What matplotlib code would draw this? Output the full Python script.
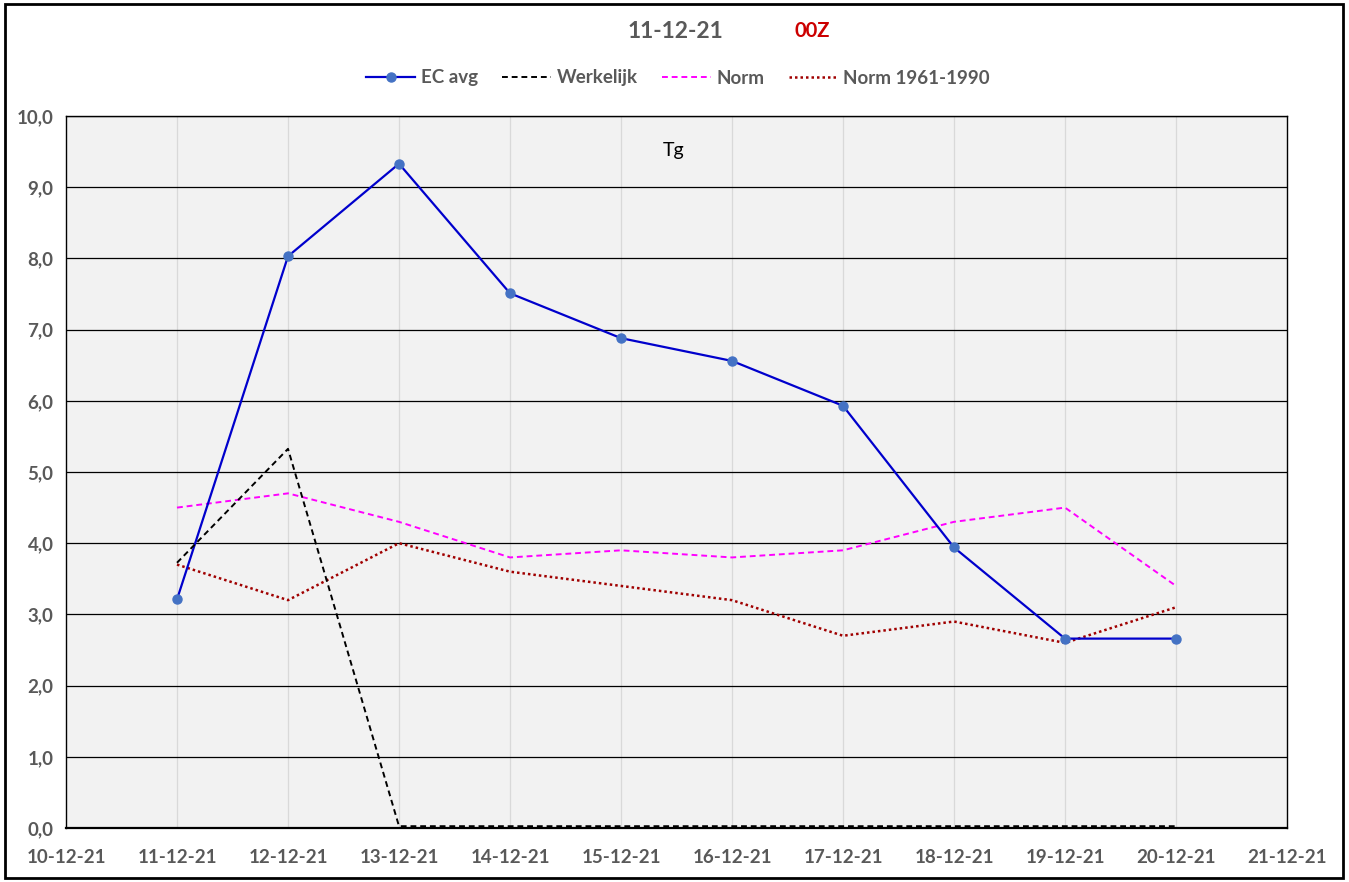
import matplotlib
matplotlib.use("Agg")
import matplotlib.pyplot as plt
from matplotlib.patches import Rectangle
from matplotlib.transforms import offset_copy

plt.rcParams['font.family'] = ['Lato', 'DejaVu Sans']

# Datos
dagen = ['10-12-21', '11-12-21', '12-12-21', '13-12-21', '14-12-21', '15-12-21',
         '16-12-21', '17-12-21', '18-12-21', '19-12-21', '20-12-21', '21-12-21']
ec_avg = [3.21, 8.03, 9.33, 7.51, 6.88, 6.56, 5.93, 3.94, 2.66, 2.66]
werkelijk = [3.7, 5.3, 0.0, 0.0, 0.0, 0.0, 0.0, 0.0, 0.0, 0.0]
norm = [4.5, 4.7, 4.3, 3.8, 3.9, 3.8, 3.9, 4.3, 4.5, 3.4]
norm_6190 = [3.7, 3.2, 4.0, 3.6, 3.4, 3.2, 2.7, 2.9, 2.6, 3.1]

x = list(range(1, 1 + len(ec_avg)))
grijs = '#595959'

fig = plt.figure(figsize=(13.49, 8.82), dpi=100)
ax = fig.add_axes([66 / 1349, 54 / 882, 1221 / 1349, 712 / 882])
ax.set_facecolor('#f2f2f2')

ax.plot(x, ec_avg, color='#0000cc', lw=1.6, marker='o', ms=6.5,
        mfc='#4472c4', mec='#4472c4', label='EC avg', zorder=5)
# de nul-lijn net boven de as laten zien
ax.plot(x, werkelijk, color='black', lw=1.4, ls=(0, (3, 2)), label='Werkelijk',
        zorder=6, clip_on=False, transform=offset_copy(ax.transData, fig, y=1.8, units='dots'))
ax.plot(x, norm, color='#ff00ff', lw=1.4, ls=(0, (3, 2)), label='Norm', zorder=4)
ax.plot(x, norm_6190, color='#a00000', lw=1.8, ls=(0, (1, 1.2)), label='Norm 1961-1990', zorder=4)

ax.set_xlim(0, len(dagen) - 1)
ax.set_ylim(0, 10)
ax.set_xticks(range(len(dagen)))
ax.set_xticklabels(dagen)
ax.set_yticks(range(11))
ax.set_yticklabels([f'{v},0' for v in range(11)])
ax.tick_params(axis='x', length=0, labelsize=13.5, labelcolor=grijs, pad=15)
ax.tick_params(axis='y', length=0, labelsize=13.5, labelcolor=grijs, pad=9)
for lbl in ax.get_xticklabels() + ax.get_yticklabels():
    lbl.set_fontweight('bold')

for v in range(1, 11):
    ax.axhline(v, color='black', lw=0.9, zorder=1)
for d in range(1, len(dagen) - 1):
    ax.axvline(d, color='#d9d9d9', lw=0.9, zorder=0.5)
for s in ax.spines.values():
    s.set_color('black')
    s.set_linewidth(1.0)
ax.spines['bottom'].set_linewidth(1.6)

ax.text(0.498, 0.952, 'Tg', transform=ax.transAxes, ha='center', va='center', fontsize=14)

fig.text(675 / 1349, 1 - 32 / 882, '11-12-21', ha='center', va='center',
         fontsize=16.5, fontweight='bold', color=grijs)
fig.text(812 / 1349, 1 - 31 / 882, '00Z', ha='center', va='center',
         fontsize=14.5, fontweight='bold', color='#cc0000')

fig.legend(loc='center', bbox_to_anchor=(678 / 1349, 1 - 78 / 882), ncol=4, frameon=False,
           prop={'size': 13.5, 'weight': 'bold'}, labelcolor=grijs, handlelength=2.6,
           columnspacing=1.3, handletextpad=0.3)

fig.patches.append(Rectangle((5 / 1349, 4 / 882), 1338 / 1349, 874 / 882, transform=fig.transFigure,
                             fill=False, edgecolor='black', lw=2))

fig.savefig('out.png', dpi=100)
